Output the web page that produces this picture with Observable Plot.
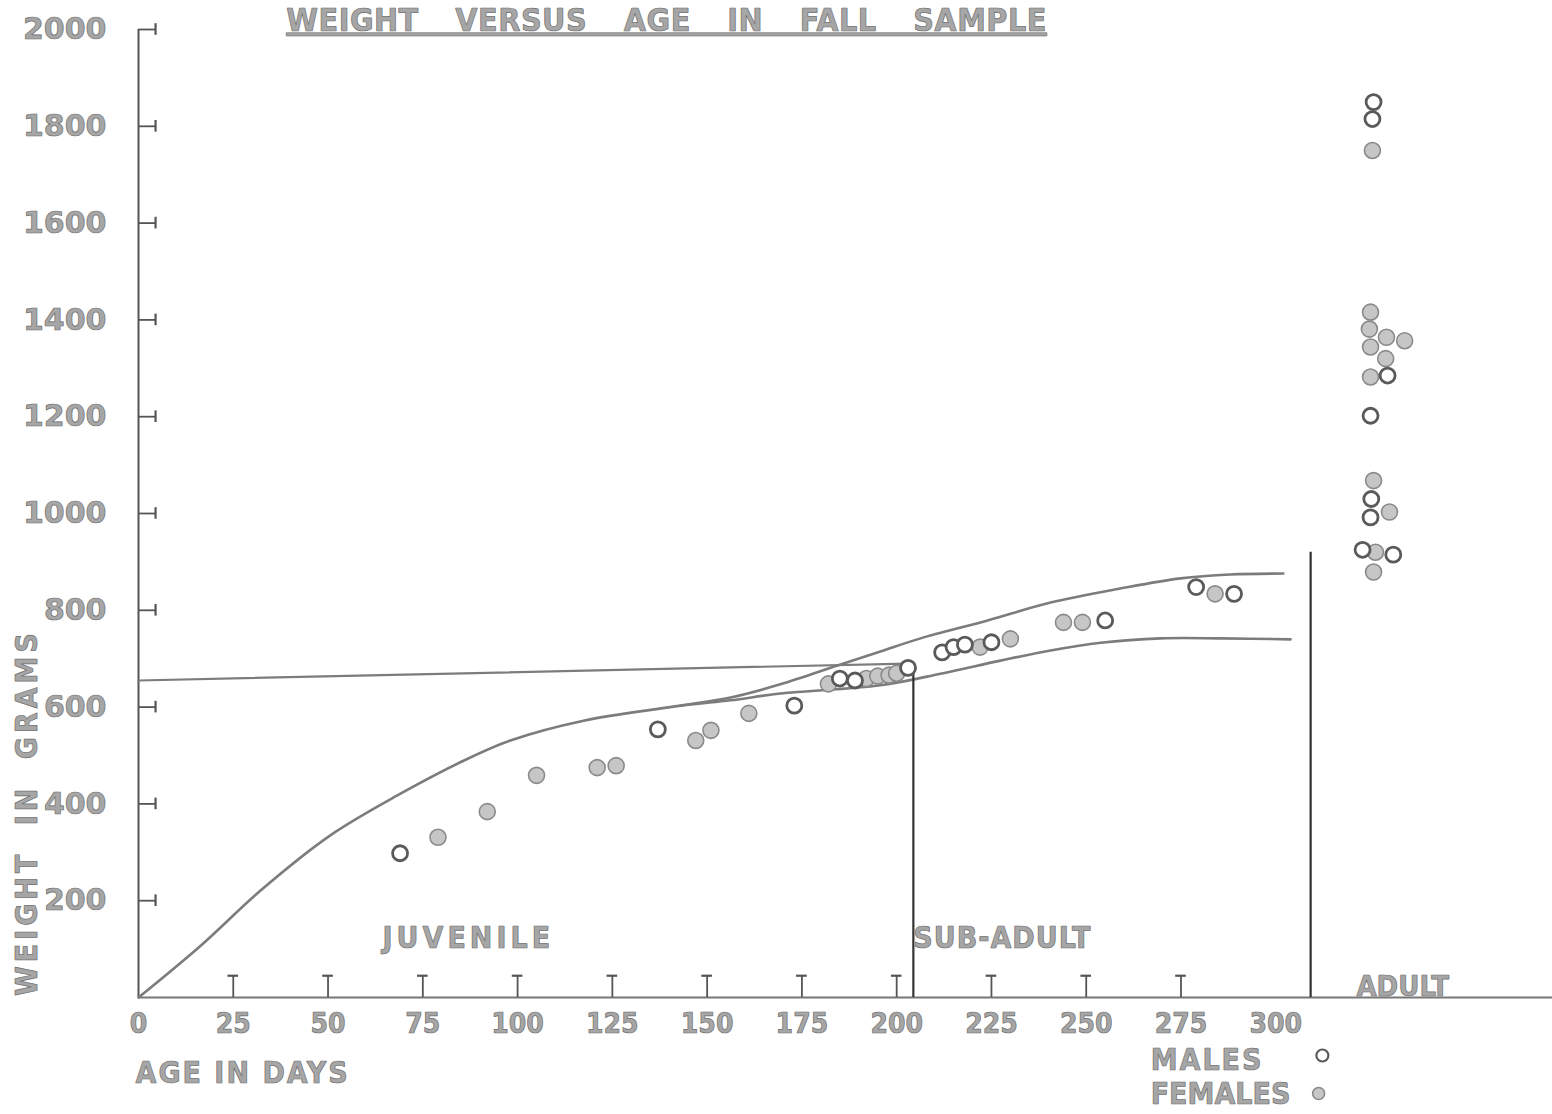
<!DOCTYPE html>
<html><head><meta charset="utf-8">
<script src="https://cdn.jsdelivr.net/npm/d3@7"></script>
<script src="https://cdn.jsdelivr.net/npm/@observablehq/plot@0.6"></script>
<style>
html,body{margin:0;padding:0;background:#fff;}
</style></head><body><div id="chart"></div>
<script>
// ---- data ----
const titleText = "WEIGHT VERSUS AGE IN FALL SAMPLE";
const xAxisLabel = "AGE IN DAYS";
const yAxisLabel = "WEIGHT IN GRAMS";
const xTickLabels = [0, 25, 50, 75, 100, 125, 150, 175, 200, 225, 250, 275, 300];
const xTickMarks = [25, 50, 75, 100, 125, 150, 175, 200, 225, 250, 275];
const yTicks = [200, 400, 600, 800, 1000, 1200, 1400, 1600, 1800, 2000];
const stageNames = ["JUVENILE", "SUB-ADULT", "ADULT"];
const legendNames = ["MALES", "FEMALES"];

// juvenile and sub-adult animals: age (days), weight (g), sex
const ageDays = [69, 79, 92, 105, 121, 126, 137, 147, 151, 161, 173,
  182, 185, 189, 192, 195, 198, 200, 203,
  212, 215, 218, 222, 225, 230,
  244, 249, 255, 279, 284, 289];
const weightGrams = [298, 331, 384, 459, 475, 479, 554, 531, 552, 587, 603,
  648, 659, 655, 659, 664, 666, 670, 681,
  713, 724, 729, 724, 734, 741,
  775, 775, 779, 848, 834, 834];
const sex = ["M", "F", "F", "F", "F", "F", "M", "F", "F", "F", "M",
  "F", "M", "M", "F", "F", "F", "F", "M",
  "M", "M", "M", "F", "M", "F",
  "F", "F", "M", "M", "F", "M"];

// adult animals (plotted in the ADULT column)
const adultPos = [325.8, 325.5, 325.5, 325.0, 324.7, 329.2, 334.0, 325.0, 329.0, 325.0, 329.5,
  325.0, 325.8, 325.2, 325.0, 330.0, 322.9, 326.3, 331.0, 325.8];
const adultWeight = [1850, 1815, 1750, 1416, 1381, 1364, 1357, 1344, 1320, 1282, 1285,
  1202, 1068, 1030, 992, 1003, 925, 920, 915, 879];
const adultSex = ["M", "M", "F", "F", "F", "F", "F", "F", "F", "F", "M",
  "M", "F", "M", "M", "F", "M", "F", "M", "F"];

// envelope curves
const upperAge = [0, 16.4, 32.2, 50.6, 69.1, 84.9, 98.1, 117.4, 143, 156.2, 169.3, 184.4, 195.7, 206.3, 224, 240.6, 259, 274.9, 288, 302];
const upperWeight = [0, 107, 221, 335, 421, 486, 531, 572, 603, 620, 647, 686, 715, 742, 779, 816, 845, 866, 874, 876];
const lowerAge = [143, 156.2, 169.3, 195.7, 211.6, 227.4, 240.6, 253.8, 269.6, 285.4, 303.9];
const lowerWeight = [603, 614, 628, 645, 669, 696, 717, 733, 742, 742, 740];

// reference line and stage boundaries
const refAge = [0, 203];
const refWeight = [655, 690];
const stageAge = [204.4, 309.2];
const stageTop = [682, 920];

// ---- build ----
const pts = ageDays.map((a, i) => ({age: a, w: weightGrams[i], sex: sex[i]}))
  .concat(adultPos.map((a, i) => ({age: a, w: adultWeight[i], sex: adultSex[i]})));
const upper = upperAge.map((a, i) => ({age: a, w: upperWeight[i]}));
const lower = lowerAge.map((a, i) => ({age: a, w: lowerWeight[i]}));
const ref = refAge.map((a, i) => ({age: a, w: refWeight[i]}));
const stages = stageAge.map((a, i) => ({age: a, top: stageTop[i]}));

const cond = "'DejaVu Sans Condensed', 'DejaVu Sans', sans-serif";
const letter = {fontFamily: cond, fontWeight: "bold", fill: "#a6a6a6", stroke: "#707070", strokeWidth: 0.7, paintOrder: "fill", lineAnchor: "middle"};
const axisCol = "#555";
const maleStyle = {fill: "#fff", stroke: "#5a5a5a", strokeWidth: 2.8};
const femaleStyle = {fill: "#c6c6c6", stroke: "#8a8a8a", strokeWidth: 1.6};

const chart = Plot.plot({
  width: 1552, height: 1114,
  marginLeft: 138, marginRight: 0, marginTop: 29, marginBottom: 117,
  x: {type: "linear", domain: [0, 373], axis: null},
  y: {type: "linear", domain: [0, 2000], axis: null},
  style: {background: "#fff"},
  marks: [
    // axes
    Plot.ruleX([0], {y1: 0, y2: 2000, stroke: axisCol, strokeWidth: 2}),
    Plot.ruleY([0], {x1: 0, x2: 373, stroke: "#777", strokeWidth: 2}),
    // y tick stubs (|-|)
    Plot.ruleY(yTicks, {y: d => d, x1: 0, x2: 4.5, stroke: axisCol, strokeWidth: 1.8}),
    Plot.ruleX(yTicks, {x: 4.5, y1: d => d - 12, y2: d => d + 12, stroke: axisCol, strokeWidth: 2.2}),
    // x tick "T" marks
    Plot.ruleX(xTickMarks, {x: d => d, y1: 0, y2: 45, stroke: axisCol, strokeWidth: 1.8}),
    Plot.ruleY(xTickMarks, {y: 45, x1: d => d - 1.4, x2: d => d + 1.4, stroke: axisCol, strokeWidth: 2.2}),
    // curves
    Plot.line(upper, {x: "age", y: "w", curve: "catmull-rom", stroke: "#7c7c7c", strokeWidth: 2.6}),
    Plot.line(lower, {x: "age", y: "w", curve: "catmull-rom", stroke: "#7c7c7c", strokeWidth: 2.6}),
    Plot.line(ref, {x: "age", y: "w", stroke: "#7c7c7c", strokeWidth: 2.2}),
    Plot.ruleX(stages, {x: "age", y1: 0, y2: "top", stroke: "#333", strokeWidth: 2.2}),
    // points
    Plot.dot(pts.filter(d => d.sex === "F"), {x: "age", y: "w", r: 8, ...femaleStyle}),
    Plot.dot(pts.filter(d => d.sex === "M"), {x: "age", y: "w", r: 7.5, ...maleStyle}),
    // tick labels
    Plot.text(xTickLabels, {x: d => d, y: 0, dy: 27, text: d => String(d), fontSize: 28, ...letter}),
    Plot.text(yTicks, {x: 0, y: d => d, dx: -32, textAnchor: "end", text: d => String(d), fontSize: 30, ...letter, fontFamily: "'DejaVu Sans', sans-serif"}),
    // title and axis labels
    Plot.text([titleText], {x: 139.3, frameAnchor: "top", dy: -9, fontSize: 32, ...letter}),
    Plot.text([xAxisLabel], {x: 0, frameAnchor: "bottom", dy: 76, dx: -3, textAnchor: "start", fontSize: 30, ...letter}),
    Plot.text([yAxisLabel], {y: 382, frameAnchor: "left", dx: -111, rotate: -90, textAnchor: "middle", fontSize: 30, ...letter}),
    // stage labels
    Plot.text([stageNames[0]], {x: 87, y: 122, fontSize: 30, ...letter}),
    Plot.text([stageNames[1]], {x: 204.4, y: 122, textAnchor: "start", fontSize: 30, ...letter}),
    Plot.text([stageNames[2]], {x: 333.5, y: 22, fontSize: 29, ...letter}),
    // legend
    Plot.text([legendNames[0]], {x: 267, frameAnchor: "bottom", dy: 63, textAnchor: "start", fontSize: 30, ...letter}),
    Plot.text([legendNames[1]], {x: 267, frameAnchor: "bottom", dy: 97, textAnchor: "start", fontSize: 30, ...letter}),
    Plot.dot([legendNames[0]], {x: 312.3, frameAnchor: "bottom", dy: 58, r: 6, ...maleStyle, strokeWidth: 2.2}),
    Plot.dot([legendNames[1]], {x: 311.3, frameAnchor: "bottom", dy: 96, r: 6, ...femaleStyle})
  ]
});
document.getElementById("chart").append(chart);

// typographic tweaks for the stencil lettering
function styleText(content, styles) {
  d3.select(chart).selectAll("text").filter(function () { return this.textContent === content; })
    .each(function () { const s = d3.select(this); for (const k in styles) s.style(k, styles[k]); });
}
styleText(titleText, {"text-decoration": "underline", "word-spacing": "26px", "letter-spacing": "0.5px"});
styleText(xAxisLabel, {"letter-spacing": "2px"});
styleText(yAxisLabel, {"letter-spacing": "4px", "word-spacing": "12px"});
styleText(stageNames[0], {"letter-spacing": "4px"});
styleText(stageNames[1], {"letter-spacing": "1px"});
styleText(legendNames[0], {"letter-spacing": "2px"});
</script></body></html>
